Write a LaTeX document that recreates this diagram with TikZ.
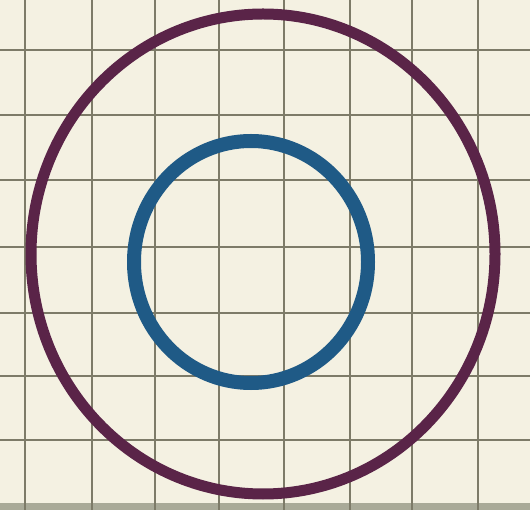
\documentclass[tikz,border=0pt]{standalone}
\usepackage{tikz}
\usetikzlibrary{calc}
\definecolor{paper}{HTML}{F4F1E2}
\definecolor{gridc}{HTML}{7D7B68}
\definecolor{outerc}{HTML}{5A2448}
\definecolor{innerc}{HTML}{1F5A86}
\definecolor{edgec}{HTML}{A9AA98}
\begin{document}
\begin{tikzpicture}[
  x=1pt, y=-1pt,
  gridln/.style={draw=gridc, line width=2.6pt},
  ring/.style={line width=11pt},
  innerring/.style={draw=innerc, line width=14pt}
]
\useasboundingbox (0,0) rectangle (530,510);

% ---------------------------------------------- paper
\fill[paper] (0,0) rectangle (530,510);
\fill[edgec] (0,503) rectangle (530,510);

% ---------------------------------------------- grid
\foreach \gx in {25,92,155,219,284,350,412,478}
  \draw[gridln] (\gx,0) -- (\gx,510);
\foreach \gy in {-15,50,115,180,247,313,376,440}
  \draw[gridln] (0,\gy) -- (530,\gy);

% ---------------------------------------------- outer ring
\draw[ring, draw=outerc] (263,254) ellipse [x radius=232, y radius=240];

% ---------------------------------------------- inner ring
\draw[innerring] (251,262) ellipse [x radius=117, y radius=121];

\end{tikzpicture}
\end{document}
